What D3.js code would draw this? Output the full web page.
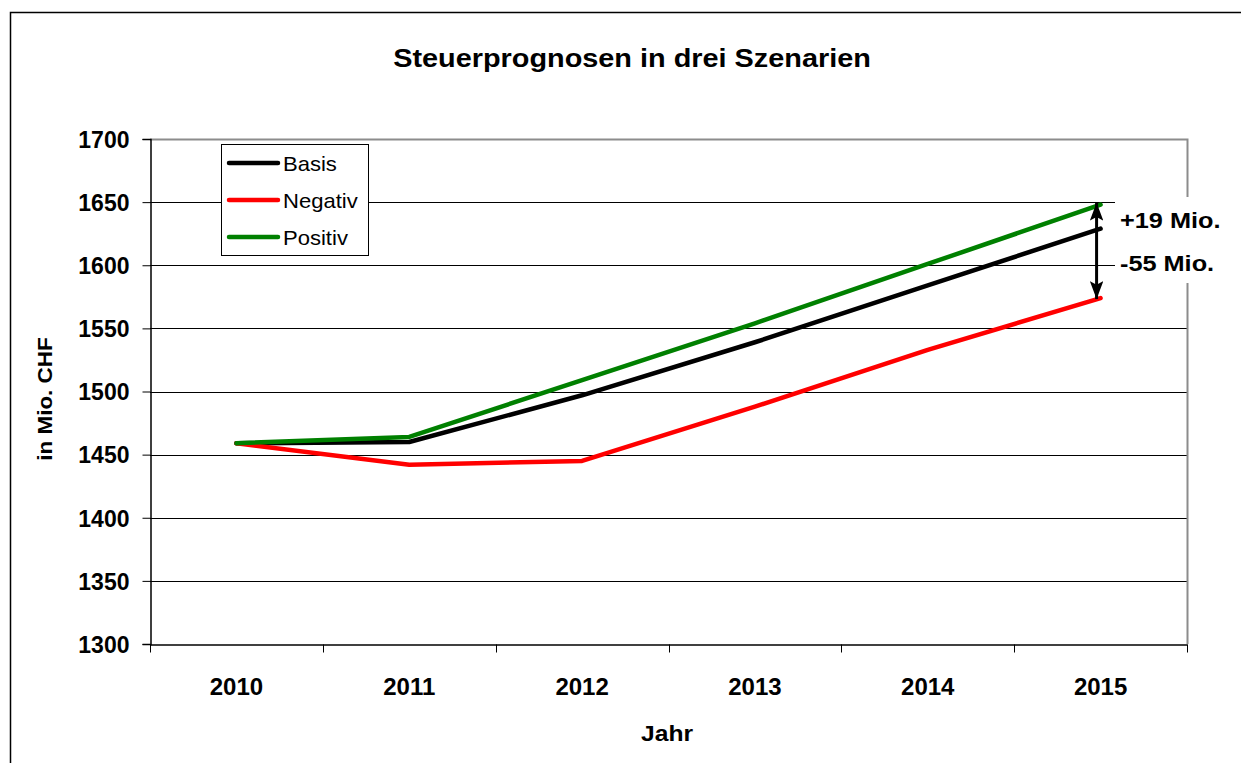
<!DOCTYPE html>
<html>
<head>
<meta charset="utf-8">
<script src="https://cdn.jsdelivr.net/npm/d3@7"></script>
<style>
  body { margin: 0; background: #fff; }
  text { font-family: "Liberation Sans", Arial, sans-serif; }
</style>
</head>
<body>
<div id="chart"></div>
<script>
var w = 1241;
var h = 763;

var years = ["2010", "2011", "2012", "2013", "2014", "2015"];
var basis = [1459, 1460, 1497, 1539, 1584, 1629];
var negativ = [1459, 1442, 1445, 1488, 1533, 1574];
var positiv = [1459, 1464, 1509, 1554, 1601, 1648];
var yTicks = [1300, 1350, 1400, 1450, 1500, 1550, 1600, 1650, 1700];
var seriesNames = ["Basis", "Negativ", "Positiv"];
var seriesColors = ["#000000", "#ff0000", "#008000"];
var diffLabels = ["+19 Mio.", "-55 Mio."];

var series = [basis, negativ, positiv];

var mLeft = 150, mRight = 1187, mTop = 139, mBottom = 644;

var svg = d3.select("#chart").append("svg")
  .attr("width", w)
  .attr("height", h);

// stretched text helper (the original fonts run a bit wider)
function label(px, py, str, size, sx, anchor, bold) {
  var g = svg.append("g")
    .attr("transform", "translate(" + px + "," + py + ") scale(" + sx + ",1)");
  g.append("text")
    .attr("text-anchor", anchor)
    .style("font-size", size + "px")
    .style("font-weight", bold ? "bold" : "normal")
    .style("fill", "#000")
    .text(str);
  return g;
}

// outer frame
svg.append("rect")
  .attr("x", 10.5).attr("y", 12.5)
  .attr("width", 1250).attr("height", 800)
  .style("fill", "none").style("stroke", "#000").style("stroke-width", 1.5);

var x = d3.scaleBand().domain(years).range([mLeft, mRight]);
var y = d3.scaleLinear().domain([1300, 1700]).range([mBottom, mTop]);

// gridlines
svg.selectAll(".grid")
  .data(yTicks.filter(function(d) { return d > 1300 && d < 1700; }))
  .enter().append("line")
    .attr("x1", mLeft).attr("x2", mRight)
    .attr("y1", function(d) { return Math.round(y(d)) + 0.5; })
    .attr("y2", function(d) { return Math.round(y(d)) + 0.5; })
    .style("stroke", "#000").style("stroke-width", 1);

// plot border right/top (gray)
svg.append("path")
  .attr("d", "M" + mLeft + "," + (mTop + 0.5) + "H" + (mRight + 0.5) + "V" + mBottom)
  .style("fill", "none").style("stroke", "#8c8c8c").style("stroke-width", 2);

// y axis
var yAxis = svg.append("g")
  .attr("transform", "translate(" + (mLeft + 0.5) + ",0)")
  .call(d3.axisLeft(y).tickValues(yTicks).tickSize(8).tickPadding(13).tickFormat(d3.format("d")));
yAxis.select(".domain").style("stroke", "#000").style("stroke-width", 1.5);
yAxis.selectAll(".tick line").style("stroke", "#000");
yAxis.selectAll("text")
  .style("font-size", "23px").style("font-weight", "bold").style("fill", "#000")
  .attr("dy", "0.36em");

// x axis
var xAxis = svg.append("g")
  .attr("transform", "translate(0," + (mBottom + 0.5) + ")")
  .call(d3.axisBottom(x).tickSize(0).tickPadding(33));
xAxis.select(".domain").style("stroke", "#000").style("stroke-width", 1.5);
xAxis.selectAll("text")
  .style("font-size", "24px").style("font-weight", "bold").style("fill", "#000");
// category boundary ticks
var bounds = years.map(function(d) { return x(d); }).concat([mRight]);
xAxis.selectAll(".btick")
  .data(bounds)
  .enter().append("line")
    .attr("x1", function(d) { return Math.round(d) + 0.5; })
    .attr("x2", function(d) { return Math.round(d) + 0.5; })
    .attr("y1", 0).attr("y2", 8)
    .style("stroke", "#000").style("stroke-width", 1);

// lines
var line = d3.line()
  .x(function(d, i) { return x(years[i]) + x.bandwidth() / 2; })
  .y(function(d) { return y(d); });

svg.selectAll(".series")
  .data(series)
  .enter().append("path")
    .attr("class", "series")
    .attr("d", line)
    .style("fill", "none")
    .style("stroke", function(d, i) { return seriesColors[i]; })
    .style("stroke-width", 4.5)
    .style("stroke-linejoin", "round")
    .style("stroke-linecap", "round");

// legend
var lg = svg.append("g").attr("transform", "translate(221,144)");
lg.append("rect")
  .attr("x", 0.5).attr("y", 0.5).attr("width", 147).attr("height", 111)
  .style("fill", "#fff").style("stroke", "#000").style("stroke-width", 1);
seriesNames.forEach(function(name, i) {
  var yy = 19 + i * 37;
  lg.append("line")
    .attr("x1", 8).attr("x2", 57).attr("y1", yy).attr("y2", yy)
    .style("stroke", seriesColors[i]).style("stroke-width", 4.5)
    .style("stroke-linecap", "round");
  lg.append("g")
    .attr("transform", "translate(62," + (yy + 7.5) + ") scale(1.05,1)")
    .append("text")
      .style("font-size", "21px").style("fill", "#000")
      .text(name);
});

// difference arrow and labels
var last = years.length - 1;
var ax = x(years[last]) + x.bandwidth() / 2 - 4;
svg.append("defs").append("marker")
  .attr("id", "ah")
  .attr("viewBox", "0 0 10 10")
  .attr("preserveAspectRatio", "none")
  .attr("refX", 10).attr("refY", 5)
  .attr("markerWidth", 6).attr("markerHeight", 4.5)
  .attr("markerUnits", "strokeWidth")
  .attr("orient", "auto-start-reverse")
  .append("path").attr("d", "M0,0L10,5L0,10L2,5z").style("fill", "#000");
svg.append("line")
  .attr("x1", ax).attr("x2", ax)
  .attr("y1", y(positiv[last]) - 2).attr("y2", y(negativ[last]) + 1)
  .style("stroke", "#000").style("stroke-width", 3)
  .attr("marker-start", "url(#ah)").attr("marker-end", "url(#ah)");

svg.append("rect")
  .attr("x", 1115).attr("y", 197).attr("width", 76).attr("height", 86)
  .style("fill", "#fff");
diffLabels.forEach(function(t, i) {
  label(1120, 228 + i * 43, t, 22, 1.15, "start", true);
});

// title and axis titles
label(632, 67, "Steuerprognosen in drei Szenarien", 26, 1.11, "middle", true);
label(667, 741, "Jahr", 22, 1.12, "middle", true);

svg.append("g")
  .attr("transform", "translate(52,399) rotate(-90) scale(1.07,1)")
  .append("text")
    .attr("text-anchor", "middle")
    .style("font-size", "21px").style("font-weight", "bold")
    .text("in Mio. CHF");
</script>
</body>
</html>
